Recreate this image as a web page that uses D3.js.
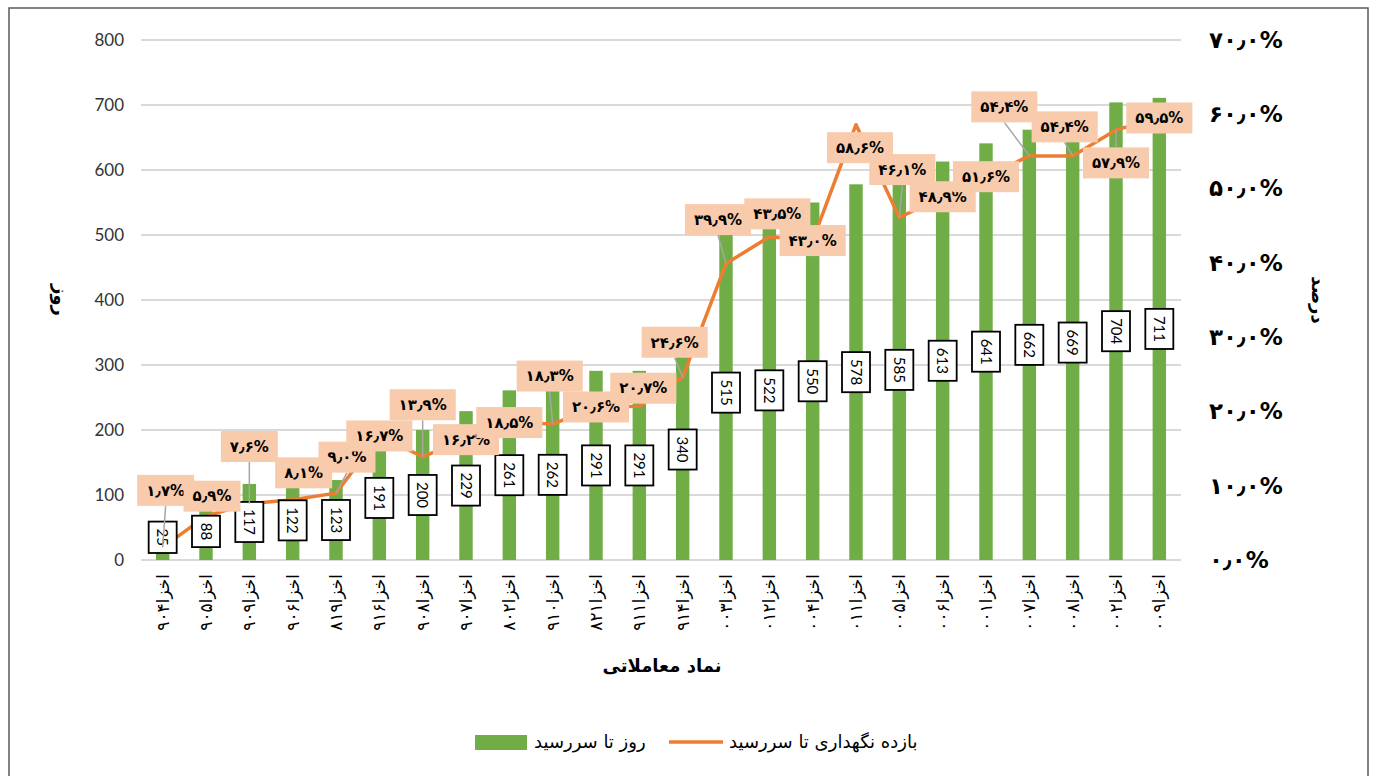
<!DOCTYPE html>
<meta charset="utf-8">
<style>
body { margin: 0; background: #fff; }
.grid line { stroke: #d9d9d9; stroke-width: 1.5; shape-rendering: crispEdges; }
.axis path { display: none; }
.yleft text { font: 17px Lato, sans-serif; fill: #333; }
.yright text { font: bold 23px "DejaVu Sans", sans-serif; fill: #000; }
.xaxis text { font: 17px "DejaVu Sans", sans-serif; fill: #000; }
.title { font: bold 18px "DejaVu Sans", sans-serif; fill: #000; }
.vlabel text { font: 15px Lato, sans-serif; fill: #000; }
.plabel text { font: bold 15px "DejaVu Sans", sans-serif; fill: #000; }
.legend text { font: 18px "DejaVu Sans", sans-serif; fill: #000; }
</style>
<body>
<script src="https://d3js.org/d3.v7.min.js"></script>
<script>

var symbols = [
  "اخزا۹۰۴", "اخزا۹۰۵", "اخزا۹۰۹", "اخزا۹۰۶", "اخزا۸۱۹", "اخزا۹۱۶",
  "اخزا۹۰۸", "اخزا۹۰۷", "اخزا۸۰۲", "اخزا۹۱۰", "اخزا۸۲۱", "اخزا۹۱۱",
  "اخزا۹۱۴", "اخزا۰۰۳", "اخزا۰۱۲", "اخزا۰۰۴", "اخزا۰۱۱", "اخزا۰۰۵",
  "اخزا۰۰۶", "اخزا۰۰۱", "اخزا۰۰۷", "اخزا۰۰۸", "اخزا۰۰۲", "اخزا۰۰۹"
];

// روز تا سررسید
var daysToMaturity = [25, 88, 117, 122, 123, 191, 200, 229, 261, 262, 291, 291,
  340, 515, 522, 550, 578, 585, 613, 641, 662, 669, 704, 711];

// بازده نگهداری تا سررسید (%)
var holdingYield = [1.7, 5.9, 7.6, 8.1, 9.0, 16.7, 13.9, 16.2, 18.5, 18.3, 20.6, 20.7,
  24.6, 39.9, 43.5, 43.0, 58.6, 46.1, 48.9, 51.6, 54.4, 54.4, 57.9, 59.5];

var dayTicks = [0, 100, 200, 300, 400, 500, 600, 700, 800];
var yieldTicks = [0, 10, 20, 30, 40, 50, 60, 70];

var seriesNames = ["روز تا سررسید", "بازده نگهداری تا سررسید"];

// manual nudges of the yield labels (px), as placed in the original sheet
var labelNudge = [[3,-57],[6,-20],[0,-57],[11,-27],[11,-36],[0,0],[0,-52],[0,0],
  [0,0],[-3,-48],[0,0],[4,-18],[-8,-35],[-8,-44],[8,-23],[0,0],[4,23],[3,-48],
  [0,0],[0,0],[-25,-49],[-8,-29],[0,33],[0,0]];

var faDigits = "۰۱۲۳۴۵۶۷۸۹";
function toFa(s) {
  return String(s).replace(/[0-9]/g, function(c) { return faDigits[+c]; }).replace(".", "٫");
}
function pct(v) { return toFa(d3.format(".1f")(v)) + "%"; }

var green = "#70ad47", orange = "#ed7d31", peach = "#f8cbad";

var svg = d3.select("body").append("svg")
    .attr("width", 1375)
    .attr("height", 776);

svg.append("rect")
    .attr("x", 9).attr("y", 8)
    .attr("width", 1359).attr("height", 800)
    .attr("fill", "#fff")
    .attr("stroke", "#595959")
    .attr("stroke-width", 1.5);

var x = d3.scaleBand()
    .domain(symbols)
    .range([141, 1181])
    .paddingInner(0.69)
    .paddingOuter(0.345);

var yDays = d3.scaleLinear().domain([0, 800]).range([560, 40]);
var yPct = d3.scaleLinear().domain([0, 70]).range([560, 40]);

function cx(i) { return x(symbols[i]) + x.bandwidth() / 2; }

// gridlines
svg.append("g").attr("class", "grid")
  .selectAll("line")
    .data(dayTicks)
  .enter().append("line")
    .attr("x1", 141).attr("x2", 1181)
    .attr("y1", function(d) { return yDays(d); })
    .attr("y2", function(d) { return yDays(d); });

// left axis
svg.append("g")
    .attr("class", "axis yleft")
    .attr("transform", "translate(141,0)")
    .call(d3.axisLeft(yDays).tickValues(dayTicks).tickSize(0).tickPadding(17));

// right axis
svg.append("g")
    .attr("class", "axis yright")
    .attr("transform", "translate(1181,0)")
    .call(d3.axisRight(yPct).tickValues(yieldTicks).tickSize(0).tickPadding(28).tickFormat(pct));

// x axis
var xAxis = svg.append("g")
    .attr("class", "axis xaxis")
    .attr("transform", "translate(0,560)")
    .call(d3.axisBottom(x).tickSize(0));
xAxis.selectAll("text")
    .attr("text-anchor", "end")
    .attr("transform", "translate(0,14) rotate(-90)")
    .attr("x", 0).attr("y", 0)
    .attr("dy", "0.35em");

// bars
svg.append("g")
  .selectAll("rect")
    .data(daysToMaturity)
  .enter().append("rect")
    .attr("x", function(d, i) { return x(symbols[i]); })
    .attr("width", x.bandwidth())
    .attr("y", function(d) { return yDays(d); })
    .attr("height", function(d) { return yDays(0) - yDays(d); })
    .attr("fill", green);

// line
var line = d3.line()
    .x(function(d, i) { return cx(i); })
    .y(function(d) { return yPct(d); });

svg.append("path")
    .datum(holdingYield)
    .attr("fill", "none")
    .attr("stroke", orange)
    .attr("stroke-width", 3.5)
    .attr("stroke-linejoin", "round")
    .attr("d", line);

// value labels on the bars
var vlab = svg.append("g").attr("class", "vlabel")
  .selectAll("g")
    .data(daysToMaturity)
  .enter().append("g");

vlab.each(function(d, i) {
  var g = d3.select(this);
  var t = g.append("text")
      .attr("text-anchor", "middle")
      .attr("dy", "0.35em")
      .attr("transform", "rotate(90)")
      .text(d);
  var len = t.node().getComputedTextLength() + 14;
  var mid = (yDays(d) + yDays(0)) / 2;
  mid = Math.min(mid, yDays(0) - 7 - len / 2);
  g.attr("transform", "translate(" + cx(i) + "," + mid + ")");
  g.insert("rect", "text")
      .attr("x", -14).attr("y", -len / 2)
      .attr("width", 28).attr("height", len)
      .attr("fill", "#fff")
      .attr("stroke", "#000")
      .attr("stroke-width", 1.8);
});

// yield labels with leader lines
var leaders = svg.append("g");
var plab = svg.append("g").attr("class", "plabel")
  .selectAll("g")
    .data(holdingYield)
  .enter().append("g");

plab.each(function(d, i) {
  var g = d3.select(this);
  var px = cx(i), py = yPct(d);
  var bx = px + labelNudge[i][0], by = py + labelNudge[i][1];
  g.attr("transform", "translate(" + bx + "," + by + ")");
  var t = g.append("text")
      .attr("text-anchor", "middle")
      .attr("dy", "0.35em")
      .text(pct(d));
  var w = t.node().getComputedTextLength() + 18, h = 31;
  g.insert("rect", "text")
      .attr("x", -w / 2).attr("y", -h / 2)
      .attr("width", w).attr("height", h)
      .attr("fill", peach);
  var gap = Math.abs(py - by) - h / 2;
  if (gap > 12.5) {
    leaders.append("line")
        .attr("x1", bx).attr("y1", py > by ? by + h / 2 : by - h / 2)
        .attr("x2", px).attr("y2", py)
        .attr("stroke", "#a6a6a6")
        .attr("stroke-width", 1.5);
  }
});

// axis titles
svg.append("text").attr("class", "title")
    .attr("text-anchor", "middle")
    .attr("transform", "translate(60,300) rotate(90)")
    .attr("dy", "0.35em")
    .text("روز");

svg.append("text").attr("class", "title")
    .attr("text-anchor", "middle")
    .attr("transform", "translate(1318,300) rotate(90)")
    .attr("dy", "0.35em")
    .text("درصد");

svg.append("text").attr("class", "title")
    .attr("text-anchor", "middle")
    .attr("x", 662).attr("y", 672)
    .text("نماد معاملاتی");

// legend
var legend = svg.append("g").attr("class", "legend");
legend.append("rect")
    .attr("x", 475).attr("y", 735)
    .attr("width", 52).attr("height", 15)
    .attr("fill", green);
legend.append("text")
    .attr("x", 534).attr("y", 742).attr("dy", "0.35em")
    .text(seriesNames[0]);
legend.append("line")
    .attr("x1", 669).attr("x2", 723)
    .attr("y1", 742).attr("y2", 742)
    .attr("stroke", orange).attr("stroke-width", 3.5);
legend.append("text")
    .attr("x", 729).attr("y", 742).attr("dy", "0.35em")
    .text(seriesNames[1]);

</script>
